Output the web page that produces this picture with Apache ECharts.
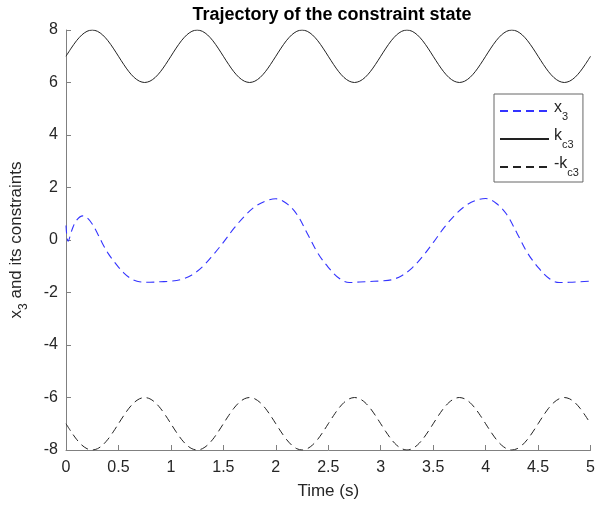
<!DOCTYPE html>
<html>
<head>
<meta charset="UTF-8">
<title>Trajectory of the constraint state</title>
<script src="https://cdn.jsdelivr.net/npm/echarts@6/dist/echarts.min.js"></script>
<style>
  html, body { margin: 0; padding: 0; background: #fff; }
  #main { width: 598px; height: 505px; }
</style>
</head>
<body>
<div id="main"></div>
<script>
// time samples for the constraint curves (s)
var time = [0,0.05,0.1,0.15,0.2,0.25,0.3,0.35,0.4,0.45,0.5,0.55,0.6,0.65,0.7,0.75,0.8,0.85,0.9,0.95,
  1,1.05,1.1,1.15,1.2,1.25,1.3,1.35,1.4,1.45,1.5,1.55,1.6,1.65,1.7,1.75,1.8,1.85,1.9,1.95,
  2,2.05,2.1,2.15,2.2,2.25,2.3,2.35,2.4,2.45,2.5,2.55,2.6,2.65,2.7,2.75,2.8,2.85,2.9,2.95,
  3,3.05,3.1,3.15,3.2,3.25,3.3,3.35,3.4,3.45,3.5,3.55,3.6,3.65,3.7,3.75,3.8,3.85,3.9,3.95,
  4,4.05,4.1,4.15,4.2,4.25,4.3,4.35,4.4,4.45,4.5,4.55,4.6,4.65,4.7,4.75,4.8,4.85,4.9,4.95,5];

// upper constraint k_c3
var kc3 = [7,7.31,7.59,7.81,7.95,8,7.95,7.81,7.59,7.31,7,6.69,6.41,6.19,6.05,6,6.05,6.19,6.41,6.69,
  7,7.31,7.59,7.81,7.95,8,7.95,7.81,7.59,7.31,7,6.69,6.41,6.19,6.05,6,6.05,6.19,6.41,6.69,
  7,7.31,7.59,7.81,7.95,8,7.95,7.81,7.59,7.31,7,6.69,6.41,6.19,6.05,6,6.05,6.19,6.41,6.69,
  7,7.31,7.59,7.81,7.95,8,7.95,7.81,7.59,7.31,7,6.69,6.41,6.19,6.05,6,6.05,6.19,6.41,6.69,
  7,7.31,7.59,7.81,7.95,8,7.95,7.81,7.59,7.31,7,6.69,6.41,6.19,6.05,6,6.05,6.19,6.41,6.69,7];

// lower constraint -k_c3
var negKc3 = [-7,-7.31,-7.59,-7.81,-7.95,-8,-7.95,-7.81,-7.59,-7.31,-7,-6.69,-6.41,-6.19,-6.05,-6,-6.05,-6.19,-6.41,-6.69,
  -7,-7.31,-7.59,-7.81,-7.95,-8,-7.95,-7.81,-7.59,-7.31,-7,-6.69,-6.41,-6.19,-6.05,-6,-6.05,-6.19,-6.41,-6.69,
  -7,-7.31,-7.59,-7.81,-7.95,-8,-7.95,-7.81,-7.59,-7.31,-7,-6.69,-6.41,-6.19,-6.05,-6,-6.05,-6.19,-6.41,-6.69,
  -7,-7.31,-7.59,-7.81,-7.95,-8,-7.95,-7.81,-7.59,-7.31,-7,-6.69,-6.41,-6.19,-6.05,-6,-6.05,-6.19,-6.41,-6.69,
  -7,-7.31,-7.59,-7.81,-7.95,-8,-7.95,-7.81,-7.59,-7.31,-7,-6.69,-6.41,-6.19,-6.05,-6,-6.05,-6.19,-6.41,-6.69,-7];

// state x3
var x3Time = [0,0.02,0.06,0.1,0.16,0.2,0.25,0.3,0.35,0.4,0.45,0.5,0.55,0.6,0.65,0.7,
  0.8,0.9,1.0,1.1,1.2,1.3,1.4,1.5,1.6,1.7,1.8,1.9,2.0,2.1,2.2,2.3,2.4,2.5,2.6,2.7,2.8,2.9,
  3.0,3.1,3.2,3.3,3.4,3.5,3.6,3.7,3.8,3.9,4.0,4.1,4.2,4.3,4.4,4.5,4.6,4.7,4.8,4.9,5.0];
var x3Values = [0.55,-0.05,0.42,0.75,0.92,0.85,0.61,0.25,-0.15,-0.5,-0.78,-1.03,-1.25,-1.42,-1.53,-1.59,
  -1.61,-1.59,-1.57,-1.5,-1.33,-1.02,-0.58,-0.09,0.44,0.9,1.27,1.48,1.57,1.4,0.98,0.25,-0.5,-1.04,-1.45,-1.62,-1.6,-1.58,
  -1.56,-1.52,-1.36,-1.06,-0.62,-0.1,0.45,0.92,1.28,1.5,1.58,1.4,0.98,0.25,-0.5,-1.04,-1.45,-1.62,-1.61,-1.59,-1.57];

var yTicks = [-8,-6,-4,-2,0,2,4,6,8];
var xTicks = [0,0.5,1,1.5,2,2.5,3,3.5,4,4.5,5];

var legendLabels = {
  'x3': '{a|x}{s|3}',
  'kc3': '{a|k}{s|c3}',
  '-kc3': '{a|-k}{s|c3}'
};

function pairs(xs, ys) {
  return xs.map(function (t, i) { return [t, ys[i]]; });
}

var font = 'Arial, "Liberation Sans", Helvetica, sans-serif';
var txt = '#262626';
var dash = [8, 5];

var myChart = echarts.init(document.getElementById('main'));

var option = {
  animation: false,
  backgroundColor: '#fff',
  title: {
    text: 'Trajectory of the constraint state',
    left: 327,
    textAlign: 'center',
    top: 1,
    textStyle: { fontFamily: font, fontSize: 18, fontWeight: 'bold', color: '#000' }
  },
  grid: { left: 60, right: 4, top: 30, bottom: 53 },
  legend: {
    orient: 'vertical',
    left: 494,
    top: 94,
    padding: [6, 4, 4, 5],
    itemGap: 6,
    itemWidth: 49,
    itemHeight: 14,
    borderColor: '#666',
    borderWidth: 1,
    backgroundColor: '#fff',
    itemStyle: { opacity: 0 },
    data: ['x3', 'kc3', '-kc3'],
    formatter: function (name) { return legendLabels[name]; },
    textStyle: {
      fontFamily: font,
      color: txt,
      rich: {
        a: { fontFamily: font, fontSize: 16, color: txt, lineHeight: 22, verticalAlign: 'top' },
        s: { fontFamily: font, fontSize: 11, color: txt, lineHeight: 22, verticalAlign: 'bottom', padding: [8, 0, 0, 0] }
      }
    }
  },
  xAxis: {
    type: 'value',
    min: 0,
    max: 5,
    interval: 0.5,
    name: 'Time (s)',
    nameLocation: 'middle',
    nameGap: 33,
    nameTextStyle: { fontFamily: font, fontSize: 17, color: txt },
    axisLine: { onZero: false, lineStyle: { color: '#808080', width: 1 } },
    axisTick: { inside: true, length: 5, lineStyle: { color: '#808080' } },
    axisLabel: {
      fontFamily: font, fontSize: 16, color: txt, margin: 10,
      formatter: function (v) { return xTicks.indexOf(v) >= 0 ? String(v) : ''; }
    },
    splitLine: { show: false }
  },
  yAxis: {
    type: 'value',
    min: -8,
    max: 8,
    interval: 2,
    name: '{a|x}{s|3}{a| and its constraints}',
    nameLocation: 'middle',
    nameGap: 36,
    nameRotate: 90,
    nameTextStyle: {
      fontFamily: font, fontSize: 17, color: txt,
      rich: {
        a: { fontFamily: font, fontSize: 17, color: txt, lineHeight: 22, verticalAlign: 'top' },
        s: { fontFamily: font, fontSize: 12, color: txt, lineHeight: 22, verticalAlign: 'bottom', padding: [8, 0, 0, 0] }
      }
    },
    axisLine: { show: true, lineStyle: { color: '#808080', width: 1 } },
    axisTick: { show: true, inside: true, length: 5, lineStyle: { color: '#808080' } },
    axisLabel: {
      fontFamily: font, fontSize: 16, color: txt, margin: 8,
      formatter: function (v) { return yTicks.indexOf(v) >= 0 ? String(v) : ''; }
    },
    splitLine: { show: false }
  },
  series: [
    {
      name: 'x3',
      type: 'line',
      data: pairs(x3Time, x3Values),
      smooth: 0.35,
      symbol: 'none',
      lineStyle: { color: '#3333ff', width: 1.1, type: dash },
      itemStyle: { color: '#3333ff' },
      z: 3
    },
    {
      name: 'kc3',
      type: 'line',
      data: pairs(time, kc3),
      smooth: 0.3,
      symbol: 'none',
      lineStyle: { color: '#222', width: 1 },
      itemStyle: { color: '#222' }
    },
    {
      name: '-kc3',
      type: 'line',
      data: pairs(time, negKc3),
      smooth: 0.3,
      symbol: 'none',
      lineStyle: { color: '#222', width: 1, type: dash },
      itemStyle: { color: '#222' }
    }
  ]
};

myChart.setOption(option);
</script>
</body>
</html>
